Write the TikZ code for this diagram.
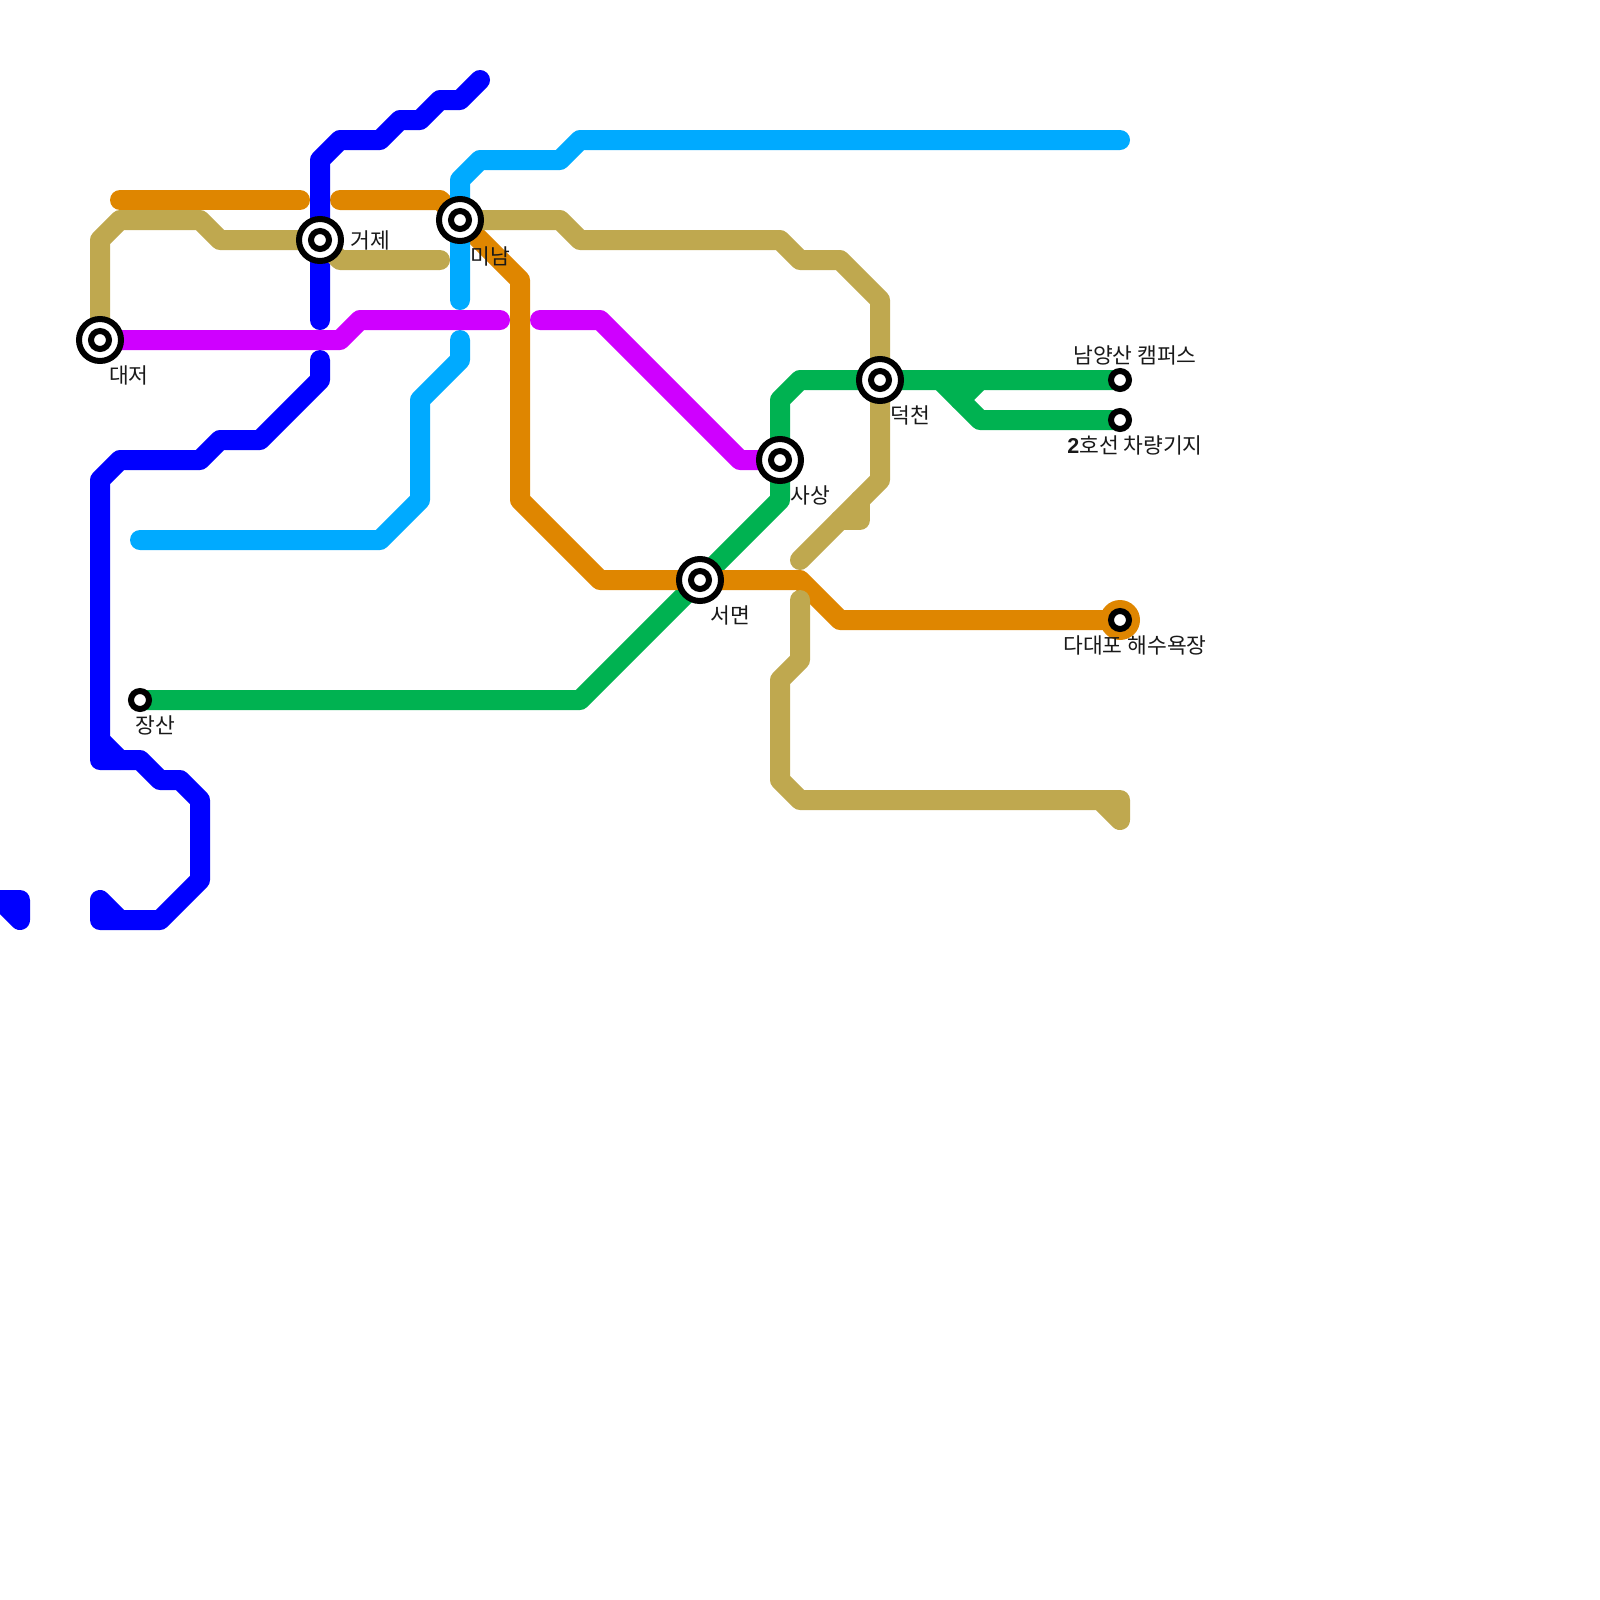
\documentclass[tikz,border=0pt]{standalone}
\usepackage{xcolor}
\usepackage{fontspec}
\setmainfont{Noto Sans CJK KR}
\newfontfamily\digitfont{Liberation Sans}
\definecolor{lineblue}{HTML}{0000FF}
\definecolor{lineorange}{HTML}{DF8600}
\definecolor{linegold}{HTML}{BFA84F}
\definecolor{linepurple}{HTML}{CF00FF}
\definecolor{linesky}{HTML}{00AAFF}
\definecolor{linegreen}{HTML}{00B251}

\begin{document}
\begin{tikzpicture}[
    x=0.25cm, y=-0.25cm,
    route/.style={line width=0.25cm, line cap=round, line join=round},
    hub/.style={circle, draw=black, fill=white, line width=0.075cm,
                minimum size=0.525cm, inner sep=0pt},
    stop/.style={circle, draw=black, fill=white, line width=0.075cm,
                 minimum size=0.225cm, inner sep=0pt},
    place/.style={font=\fontsize{7.65pt}{9pt}\selectfont, text=black!90, inner sep=0pt},
  ]
  \useasboundingbox (0,0) rectangle (80,80);

  \coordinate (daejeo)   at (5,17);
  \coordinate (geoje)    at (16,12);
  \coordinate (minam)    at (23,11);
  \coordinate (seomyeon) at (35,29);
  \coordinate (sasang)   at (39,23);
  \coordinate (deokcheon)at (44,19);
  \coordinate (jangsan)  at (7,35);
  \coordinate (yangsan)  at (56,19);
  \coordinate (depot)    at (56,21);
  \coordinate (dadaepo)  at (56,31);

  % green
  \draw[route, linegreen] (jangsan) -- (29,35) -- (seomyeon) -- (39,25) -- (sasang)
    -- (39,20) -- (40,19) -- (deokcheon) -- (yangsan);
  \draw[route, linegreen] (47,19) -- (49,21) -- (depot);
  \draw[route, linegreen] (49,19) -- (48,20);

  % orange
  \draw[route, lineorange] (6,10) -- (15,10);
  \draw[route, lineorange] (17,10) -- (22,10) -- (minam);
  \draw[route, lineorange] (minam) -- (26,14) -- (26,25) -- (30,29) -- (seomyeon)
    -- (40,29) -- (42,31) -- (dadaepo);
  \fill[lineorange] (dadaepo) circle (0.25cm);

  % blue
  \draw[route, lineblue] (24,4) -- (23,5) -- (22,5) -- (21,6) -- (20,6) -- (19,7)
    -- (17,7) -- (16,8) -- (geoje) -- (16,16);
  \draw[route, lineblue] (16,18) -- (16,19) -- (13,22) -- (11,22) -- (10,23) -- (6,23)
    -- (5,24) -- (5,38) -- (7,38) -- (8,39) -- (9,39) -- (10,40) -- (10,44) -- (8,46)
    -- (5,46) -- (5,45) -- (6,46);
  \draw[route, lineblue] (5,37) -- (6,38);
  \draw[route, lineblue] (0,45) -- (1,45) -- (1,46) -- (0,45);

  % sky
  \draw[route, linesky] (56,7) -- (29,7) -- (28,8) -- (24,8) -- (23,9) -- (minam) -- (23,15);
  \draw[route, linesky] (23,17) -- (23,18) -- (21,20) -- (21,25) -- (19,27) -- (7,27);

  % purple
  \draw[route, linepurple] (daejeo) -- (17,17) -- (18,16) -- (25,16);
  \draw[route, linepurple] (27,16) -- (30,16) -- (37,23) -- (sasang);

  % gold
  \draw[route, linegold] (daejeo) -- (5,12) -- (6,11) -- (10,11) -- (11,12) -- (geoje)
    -- (17,13) -- (22,13);
  \draw[route, linegold] (minam) -- (28,11) -- (29,12) -- (39,12) -- (40,13) -- (42,13)
    -- (44,15) -- (deokcheon) -- (44,24) -- (40,28);
  \draw[route, linegold] (43,25) -- (43,26) -- (42,26);
  \draw[route, linegold] (40,30) -- (40,33) -- (39,34) -- (39,39) -- (40,40) -- (56,40)
    -- (56,41) -- (55,40);

  \node[hub] (daejeohub) at (daejeo) {};
  \node[stop] (daejeodot) at (daejeo) {};
  \node[hub] (geojehub) at (geoje) {};
  \node[stop] (geojedot) at (geoje) {};
  \node[hub] (minamhub) at (minam) {};
  \node[stop] (minamdot) at (minam) {};
  \node[hub] (seomyeonhub) at (seomyeon) {};
  \node[stop] (seomyeondot) at (seomyeon) {};
  \node[hub] (sasanghub) at (sasang) {};
  \node[stop] (sasangdot) at (sasang) {};
  \node[hub] (deokcheonhub) at (deokcheon) {};
  \node[stop] (deokcheondot) at (deokcheon) {};
  \node[stop] (jangsandot) at (jangsan) {};
  \node[stop] (yangsandot) at (yangsan) {};
  \node[stop] (depotdot) at (depot) {};
  \node[stop] (dadaepodot) at (dadaepo) {};

  \node[place] (geojename)     at (18.5,12)    {거제};
  \node[place] (minamname)     at (24.5,12.8)  {미남};
  \node[place] (daejeoname)    at (6.45,18.75) {대저};
  \node[place] (sasangname)    at (40.5,24.75) {사상};
  \node[place] (deokcheonname) at (45.5,20.75) {덕천};
  \node[place] (seomyeonname)  at (36.5,30.75) {서면};
  \node[place] (jangsanname)   at (7.75,36.25) {장산};
  \node[place] (yangsanname)   at (56.75,17.75) {남양산 캠퍼스};
  \node[place] (depotname)     at (56.75,22.25) {{\digitfont\bfseries 2}호선 차량기지};
  \node[place] (dadaeponame)   at (56.75,32.25) {다대포 해수욕장};
\end{tikzpicture}
\end{document}
